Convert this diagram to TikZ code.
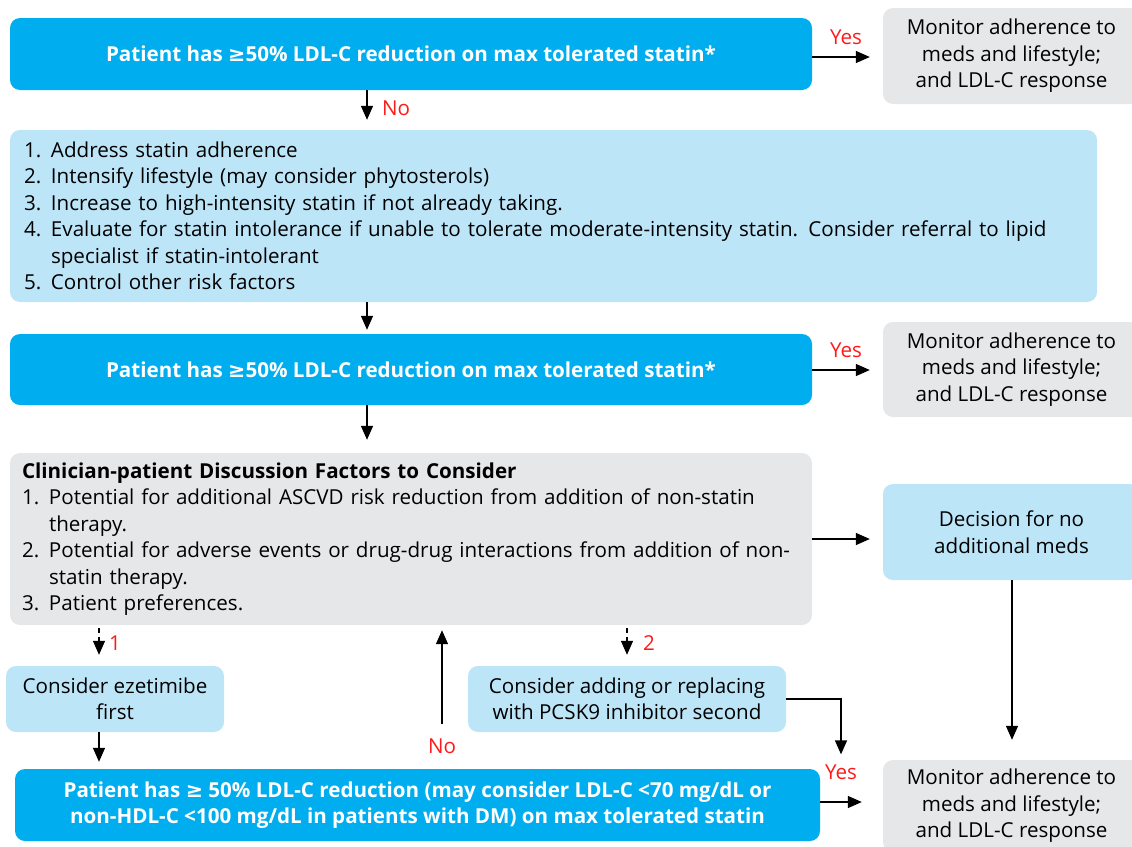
\documentclass[tikz,border=0pt]{standalone}
\usepackage{fontspec}
\setmainfont{Open Sans}
\newfontfamily\symfont{DejaVu Sans}
\usetikzlibrary{arrows.meta}

\definecolor{cyanclr}{HTML}{00AEEF}
\definecolor{paleclr}{HTML}{BDE5F8}
\definecolor{greyclr}{HTML}{E6E7E8}
\definecolor{redclr}{HTML}{FF1A1A}

\newcommand{\gesym}{{\symfont\char"2265}}
\newcommand{\li}[1]{\makebox[27pt][l]{#1.}}
\newcommand{\cont}{\hspace*{27pt}}

\begin{document}
\begin{tikzpicture}[x=1pt,y=-1pt,
        font=\fontsize{20.6}{26.5}\selectfont,
        box/.style={rounded corners=10pt,inner sep=0pt,align=center},
        bluebox/.style={box,fill=cyanclr,text=white,font=\fontsize{20.6}{26}\selectfont\bfseries},
        paleblue/.style={box,fill=paleclr},
        greybox/.style={box,fill=greyclr},
        arr/.style={-{Triangle[length=14pt,width=12pt]},line width=1.4pt},
        redlab/.style={text=redclr,inner sep=0pt}]

    \useasboundingbox (0,0) rectangle (1132,846);

    % first check
    \node[bluebox,minimum width=802pt,minimum height=72pt] (top1) at (411,54)
        {Patient has \gesym50\% LDL-C reduction on max tolerated statin*};
    \node[greybox,minimum width=257pt,minimum height=96pt] (mon1) at (1011.5,56)
        {Monitor adherence to\\meds and lifestyle;\\and LDL-C response};

    % steps
    \node[paleblue,align=left,text width=1059pt,inner xsep=14pt,minimum height=172pt] (steps) at (553.5,216)
        {\li{1}Address statin adherence\\
         \li{2}Intensify lifestyle (may consider phytosterols)\\
         \li{3}Increase to high-intensity statin if not already taking.\\
         \li{4}Evaluate for statin intolerance if unable to tolerate moderate-intensity statin. Consider referral to lipid\\
         \cont specialist if statin-intolerant\\
         \li{5}Control other risk factors};

    % second check
    \node[bluebox,minimum width=802pt,minimum height=71pt] (top2) at (411,369.5)
        {Patient has \gesym50\% LDL-C reduction on max tolerated statin*};
    \node[greybox,minimum width=257pt,minimum height=95pt] (mon2) at (1011.5,369.5)
        {Monitor adherence to\\meds and lifestyle;\\and LDL-C response};

    % discussion
    \node[greybox,align=left,text width=778pt,inner xsep=12pt,minimum height=172pt] (talk) at (411,539)
        {\textbf{Clinician-patient Discussion Factors to Consider}\\
         \li{1}Potential for additional ASCVD risk reduction from addition of non-statin\\
         \cont therapy.\\
         \li{2}Potential for adverse events or drug-drug interactions from addition of non-\\
         \cont statin therapy.\\
         \li{3}Patient preferences.};
    \node[paleblue,minimum width=257pt,minimum height=96pt] (nomeds) at (1011.5,532)
        {Decision for no\\additional meds};

    % options
    \node[paleblue,minimum width=218pt,minimum height=66pt] (eze) at (115,699)
        {Consider ezetimibe\\first};
    \node[paleblue,minimum width=318pt,minimum height=66pt] (pcsk) at (627,699)
        {Consider adding or replacing\\with PCSK9 inhibitor second};

    % third check
    \node[bluebox,minimum width=805pt,minimum height=72pt] (top3) at (417.5,805)
        {Patient has \gesym{} 50\% LDL-C reduction (may consider LDL-C <70 mg/dL or\\
         non-HDL-C <100 mg/dL in patients with DM) on max tolerated statin};
    \node[greybox,minimum width=257pt,minimum height=92pt] (mon3) at (1011.5,806)
        {Monitor adherence to\\meds and lifestyle;\\and LDL-C response};

    % labels
    \coordinate (mid) at (367,0);
    \coordinate (left) at (99,0);
    \node[redlab] (yes1) at (846,37) {Yes};
    \node[redlab] (no1) at (396,108) {No};
    \node[redlab] (yes2) at (846,350) {Yes};
    \node[redlab] (one) at (115,643) {1};
    \node[redlab] (two) at (649,643) {2};
    \node[redlab] (no2) at (442,746) {No};
    \node[redlab] (yes3) at (841,772) {Yes};

    % connectors
    \draw[arr,shorten >=13pt] (top1.east |- 0,57) -- (mon1.west |- 0,57);
    \draw[arr,shorten >=10pt] (top1.south -| mid) -- (steps.north -| mid);
    \draw[arr,shorten >=4pt] (steps.south -| mid) -- (top2.north -| mid);
    \draw[arr,shorten >=13pt] (top2.east |- 0,370) -- (mon2.west |- 0,370);
    \draw[arr,shorten >=13pt] (top2.south -| mid) -- (talk.north -| mid);
    \draw[arr,shorten >=13pt] (talk.east |- 0,539) -- (nomeds.west |- 0,539);
    \draw[arr,shorten >=20pt] (nomeds.south -| 1012,0) -- (mon3.north -| 1012,0);
    \draw[arr,dash pattern=on 5pt off 4pt,shorten <=3pt,shorten >=11pt] (talk.south -| left) -- (eze.north -| left);
    \draw[arr,dash pattern=on 5pt off 4pt,shorten <=3pt,shorten >=11pt] (talk.south -| pcsk) -- (pcsk.north);
    \draw[arr,shorten >=7pt] (eze.south -| left) -- (top3.north -| left);
    \draw[arr,shorten <=14pt,shorten >=5pt] (no2.north) -- (talk.south -| no2);
    \draw[arr,shorten >=10pt] (pcsk.east) -| (yes3.north);
    \draw[arr,shorten >=21pt] (top3.east |- 0,802) -- (mon3.west |- 0,802);
\end{tikzpicture}
\end{document}
